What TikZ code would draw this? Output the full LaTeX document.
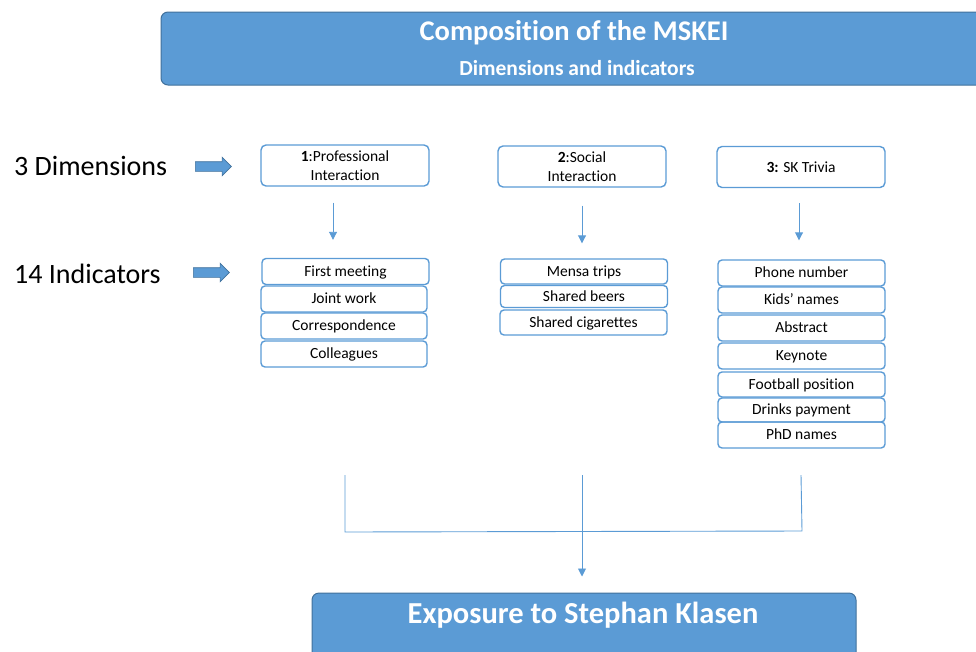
\documentclass[tikz,border=0pt]{standalone}
\usepackage{fontspec}
\setmainfont[Ligatures=NoCommon]{Carlito}
\usetikzlibrary{shapes.arrows,arrows.meta}
\definecolor{ppblue}{HTML}{5B9BD5}
\definecolor{ppdark}{HTML}{41719C}
\definecolor{lineblue}{HTML}{5B9BD5}
\tikzset{
  banner/.style={draw=ppdark, line width=1pt, fill=ppblue, rounded corners=7pt, text=white, font=\bfseries, align=center, inner sep=0pt},
  dimbox/.style={draw=lineblue, line width=1.4pt, rounded corners=5pt, minimum width=168pt, minimum height=41pt, align=center, font=\fontsize{15.5}{18.5}\selectfont, inner sep=0pt},
  indbox/.style={draw=lineblue, line width=1.4pt, rounded corners=4pt, minimum width=167pt, minimum height=26pt, font=\fontsize{15.5}{18}\selectfont, inner sep=0pt, text depth=1pt},
  blockarrow/.style={single arrow, draw=ppdark, line width=0.6pt, fill=ppblue, minimum height=36pt, inner xsep=0pt, inner ysep=4.5pt, single arrow head extend=4.5pt, single arrow head indent=0pt},
  flow/.style={draw=lineblue, line width=0.9pt, -{Triangle[length=8pt,width=8pt]}},
  tie/.style={draw=lineblue, line width=0.9pt},
  side/.style={font=\fontsize{28}{32}\selectfont, anchor=west, inner sep=0pt}
}
\begin{document}
\begin{tikzpicture}[x=1pt,y=-1pt]
\useasboundingbox (0,0) rectangle (976,651);
% banners
\node[banner, minimum width=830pt, minimum height=73pt] (title) at (576,48.5) {};
\node[text=white, font=\bfseries\fontsize{28.5}{32}\selectfont, inner sep=0pt] (t1) at (574,33) {Composition of the MSKEI};
\node[text=white, font=\bfseries\fontsize{21.5}{24}\selectfont, inner sep=0pt] (t2) at (577,68) {Dimensions and indicators};
\node[banner, minimum width=544pt, minimum height=80pt] (expo) at (584,633) {};
\node[text=white, font=\bfseries\fontsize{30.5}{34}\selectfont, inner sep=0pt] (e1) at (583,615) {Exposure to Stephan Klasen};
% side labels
\node[side] (dimlab) at (14,166) {3 Dimensions};
\node[side] (indlab) at (14,274) {14 Indicators};
\node[blockarrow] (ba1) at (211,166.5) {};
\node[blockarrow] (ba2) at (209,272.5) {};
% dimension boxes
\node[dimbox] (d1) at (345,165.5) {\textbf{1}:Professional\\Interaction};
\node[dimbox] (d2) at (582,166.5) {\textbf{2}:Social\\Interaction};
\node[dimbox] (d3) at (801,167) {\textbf{3:} SK Trivia};
% column 1
\node[indbox] (a1) at (345.5,271.5) {First meeting};
\node[indbox, minimum width=166pt] (a2) at (344,299) {Joint work};
\node[indbox, minimum width=166pt] (a3) at (344,326) {Correspondence};
\node[indbox, minimum width=166pt] (a4) at (344,354) {Colleagues};
% column 2
\node[indbox, minimum height=25pt] (b1) at (584,271.5) {Mensa trips};
\node[indbox, minimum height=22pt] (b2) at (584,296.5) {Shared beers};
\node[indbox, minimum height=25pt] (b3) at (583.5,322.5) {Shared cigarettes};
% column 3
\node[indbox] (c1) at (801.5,273) {Phone number};
\node[indbox] (c2) at (801.5,300) {Kids’ names};
\node[indbox] (c3) at (801.5,328) {Abstract};
\node[indbox] (c4) at (801.5,356) {Keynote};
\node[indbox, minimum height=25pt] (c5) at (801.5,384.5) {Football position};
\node[indbox, minimum height=24pt] (c6) at (801.5,410) {Drinks payment};
\node[indbox] (c7) at (801.5,435) {PhD names};
% arrows dimension -> indicators
\draw[flow] ([xshift=-12pt,yshift=-16pt]d1.south) -- ([xshift=-12.5pt,yshift=18pt]a1.north);
\draw[flow] ([yshift=-18pt]d2.south) -- ([xshift=-2pt,yshift=15pt]b1.north);
\draw[flow] ([xshift=-2pt,yshift=-15pt]d3.south) -- ([xshift=-2.5pt,yshift=19pt]c1.north);
% merging lines
\coordinate (m1) at (345,475);
\coordinate (m2) at (582,475);
\coordinate (m3) at (801,475);
\coordinate (j1) at (345,532);
\coordinate (j3) at (802,531);
\draw[tie] (m1) -- (j1) -- (j3) -- (m3);
\draw[flow] (m2) -- ([xshift=-2pt,yshift=16pt]expo.north);
\end{tikzpicture}
\end{document}
